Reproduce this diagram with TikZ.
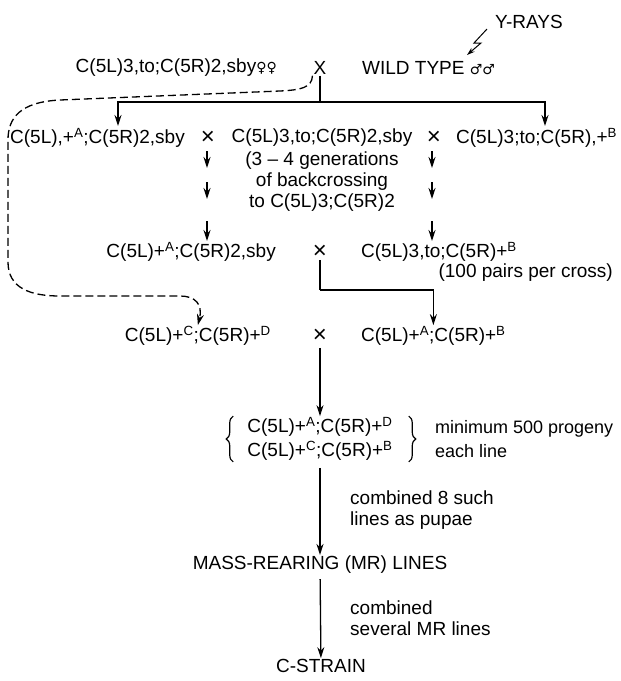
\documentclass[tikz,border=0pt]{standalone}
\usepackage{fontspec}
\setmainfont{Liberation Sans}
\newfontfamily\sexfont{DejaVu Sans}
\usetikzlibrary{arrows.meta,decorations.pathreplacing}

\newcommand{\females}{{\sexfont\fontsize{14}{14}\selectfont ♀♀}}
\newcommand{\males}{{\sexfont\fontsize{14}{14}\selectfont ♂♂}}

\tikzset{
  lbl/.style={inner sep=1pt, font=\fontsize{19}{21}\selectfont},
  times/.style={inner sep=1pt, font=\fontsize{24}{24}\selectfont},
  note/.style={lbl, align=left, anchor=west},
  arr/.style={line width=1.3pt, -{Stealth[length=11pt,width=7pt]}},
  link/.style={line width=1.3pt},
  bracket/.style={line width=1.2pt, decorate, decoration={brace, amplitude=7pt}},
}

\begin{document}
\begin{tikzpicture}[x=1pt,y=-1pt]
  \useasboundingbox (0,0) rectangle (621,681);

  % Parents
  \node[lbl, anchor=west] (rays) at (494,22) {Y-RAYS};
  \node[lbl, anchor=east] (female) at (278,68) {C(5L)3,to;C(5R)2,sby\females};
  \node[lbl] (cross1) at (320,68) {X};
  \node[lbl, anchor=west] (wild) at (361,68) {WILD TYPE \males};

  % Irradiation
  \coordinate (boltA) at (487,29);
  \coordinate (boltB) at (467,55);
  \draw[line width=1pt, -{Stealth[length=8pt,width=5pt]}] (boltA) -- (474,43) -- (481,43) -- (boltB);

  % First crosses
  \node[lbl, anchor=east] (left2) at (186,138) {C(5L),+\textsuperscript{A};C(5R)2,sby};
  \node[times] (cross2a) at (208,138) {×};
  \node[lbl] (mid2) at (322,138) {C(5L)3,to;C(5R)2,sby};
  \node[times] (cross2b) at (434,138) {×};
  \node[lbl, anchor=west] (right2) at (455,138) {C(5L)3;to;C(5R),+\textsuperscript{B}};

  \coordinate (bar) at (320,102);
  \coordinate (tipL) at (118,126);
  \coordinate (tipR) at (545,126);
  \draw[link] (cross1) -- (bar);
  \draw[arr] (bar) -| (tipL);
  \draw[arr] (bar) -| (tipR);

  % Backcrossing
  \node[lbl, align=center] (gen) at (322,182) {(3 – 4 generations\\of backcrossing\\to C(5L)3;C(5R)2};
  \foreach \x in {207,432} {
    \draw[arr] (\x,151) -- (\x,168);
    \draw[arr] (\x,182) -- (\x,199);
    \draw[arr] (\x,221) -- (\x,241);
  }

  % Second crosses
  \node[lbl, anchor=east] (left3) at (277,252) {C(5L)+\textsuperscript{A};C(5R)2,sby};
  \node[times] (cross3) at (320,252) {×};
  \node[lbl, anchor=west] (right3) at (360,252) {C(5L)3,to;C(5R)+\textsuperscript{B}};
  \node[lbl, anchor=east] (pairs) at (614,273) {(100 pairs per cross)};

  \node[lbl, anchor=east] (left4) at (272,336) {C(5L)+\textsuperscript{C};C(5R)+\textsuperscript{D}};
  \node[times] (cross4) at (320,336) {×};
  \node[lbl, anchor=west] (right4) at (360,336) {C(5L)+\textsuperscript{A};C(5R)+\textsuperscript{B}};

  \coordinate (elbow) at (320,290);
  \draw[link] (cross3) -- (elbow);
  \draw[arr] (elbow) -| (right4.north);

  % Wild-type males kept apart
  \draw[arr, dash pattern=on 8pt off 4pt] (cross1.south west)
    .. controls (312,88) and (300,90) .. (280,91) -- (60,100)
    .. controls (20,102) and (8,118) .. (8,140) -- (8,262)
    .. controls (8,288) and (30,296) .. (60,296) -- (180,296)
    .. controls (195,296) and (203,304) .. (left4.north);

  % Hybrid lines
  \node[lbl, align=left, font=\fontsize{19}{24}\selectfont] (pair) at (320,439)
    {C(5L)+\textsuperscript{A};C(5R)+\textsuperscript{D}\\C(5L)+\textsuperscript{C};C(5R)+\textsuperscript{B}};
  \draw[bracket] ([xshift=-13pt]pair.south west) -- ([xshift=-13pt]pair.north west);
  \draw[bracket] ([xshift=15pt]pair.north east) -- ([xshift=15pt]pair.south east);
  \node[note, font=\fontsize{18}{24}\selectfont] (prog) at (434,439) {minimum 500 progeny\\each line};
  \draw[arr, shorten <=4pt] (cross4) -- (pair);

  % Mass rearing
  \node[lbl] (mass) at (320,565) {MASS-REARING (MR) LINES};
  \node[note] (lab1) at (349,510) {combined 8 such\\lines as pupae};
  \draw[arr, shorten <=6pt] (pair) -- (mass);

  \node[lbl] (strain) at (321,666) {C-STRAIN};
  \node[note] (lab2) at (349,618) {combined\\several MR lines};
  \draw[arr, shorten <=4pt] (mass) -- (strain);
\end{tikzpicture}
\end{document}
